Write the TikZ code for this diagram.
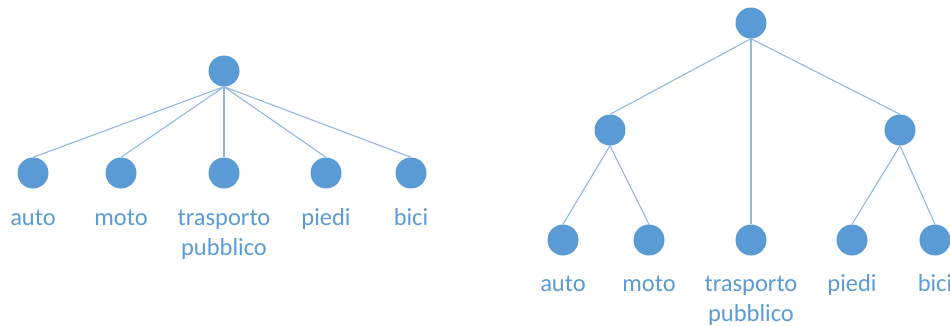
\documentclass[tikz,border=0pt]{standalone}
\usepackage{fontspec}
\setmainfont{Carlito}
\definecolor{nodeblue}{HTML}{5B9BD5}
\definecolor{edgeblue}{HTML}{8FB8E3}
\definecolor{textblue}{HTML}{5B9BD5}
\begin{document}
\begin{tikzpicture}[x=1pt,y=-1pt,
  dot/.style={circle,fill=nodeblue,draw=none,minimum size=31pt,inner sep=0pt},
  lbl/.style={text=textblue,font=\fontsize{24.5}{30}\selectfont,align=center,inner sep=0pt,anchor=base},
  edge/.style={draw=edgeblue,line width=1.1pt}]
\useasboundingbox (0,0) rectangle (950,325);
% left tree
\node[dot] (L0) at (224,71) {};
\node[dot] (L1) at (33,173) {};
\node[dot] (L2) at (121,173) {};
\node[dot] (L3) at (224,173) {};
\node[dot] (L4) at (326,173) {};
\node[dot] (L5) at (411,173) {};
\foreach \i in {1,...,5} \draw[edge] (L0.south) -- (L\i.north);
\node[lbl] (La) at (33,225) {auto};
\node[lbl] (Lb) at (121,225) {moto};
\node[lbl] (Lc) at (224,255) {trasporto\\pubblico};
\node[lbl] (Ld) at (326,225) {piedi};
\node[lbl] (Le) at (411,225) {bici};
% right tree
\node[dot] (R0) at (751,23) {};
\node[dot] (RA) at (610,130) {};
\node[dot] (RB) at (900,130) {};
\node[dot] (R1) at (563,240) {};
\node[dot] (R2) at (649,240) {};
\node[dot] (R3) at (751,240) {};
\node[dot] (R4) at (852,240) {};
\node[dot] (R5) at (935,240) {};
\draw[edge] (R0.south) -- (RA.north);
\draw[edge] (R0.south) -- (RB.north);
\draw[edge] (R0.south) -- (R3.north);
\draw[edge] (RA.south) -- (R1.north);
\draw[edge] (RA.south) -- (R2.north);
\draw[edge] (RB.south) -- (R4.north);
\draw[edge] (RB.south) -- (R5.north);
\node[lbl] (Ra) at (563,291) {auto};
\node[lbl] (Rb) at (649,291) {moto};
\node[lbl] (Rc) at (751,321) {trasporto\\pubblico};
\node[lbl] (Rd) at (852,291) {piedi};
\node[lbl] (Re) at (935,291) {bici};
\end{tikzpicture}
\end{document}
